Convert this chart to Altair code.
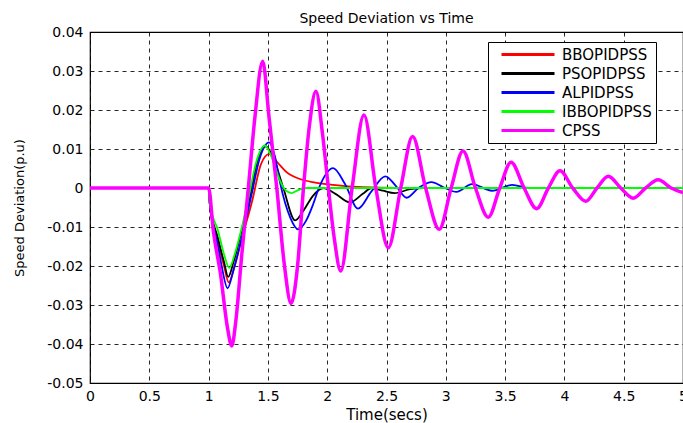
import altair as alt
import pandas as pd

series_names = ["BBOPIDPSS", "PSOPIDPSS", "ALPIDPSS", "IBBOPIDPSS", "CPSS"]
series_colors = ["#ff0000", "#000000", "#0000ff", "#00ff00", "#ff00ff"]

x_ticks = [0, 0.5, 1, 1.5, 2, 2.5, 3, 3.5, 4, 4.5, 5]
y_ticks = [-0.05, -0.04, -0.03, -0.02, -0.01, 0, 0.01, 0.02, 0.03, 0.04]

# BBOPIDPSS (red)
bbo_t = [0, 1.0, 1.01, 1.08, 1.13, 1.17, 1.22, 1.28, 1.37, 1.44, 1.51, 1.58, 1.66, 1.77, 1.9, 2.05, 2.3, 2.6, 5.0]
bbo_v = [0, 0, -0.004, -0.014, -0.020, -0.0242, -0.020, -0.013, -0.003, 0.006, 0.0087, 0.0066, 0.0040, 0.0023, 0.0014, 0.0008, 0.0002, 0, 0]

# PSOPIDPSS (black)
pso_t = [0, 1.0, 1.01, 1.08, 1.13, 1.165, 1.21, 1.27, 1.35, 1.41, 1.48, 1.55, 1.63, 1.73, 1.8, 1.88, 1.97,
         2.07, 2.19, 2.3, 2.375, 2.47, 2.57, 2.7, 2.8, 5.0]
pso_v = [0, 0, -0.004, -0.013, -0.019, -0.0228, -0.019, -0.012, -0.002, 0.0068, 0.0107, 0.0075, 0, -0.0083, -0.0058, -0.002, 0,
         -0.0015, -0.0037, -0.0015, 0, -0.0007, -0.0013, -0.0003, 0, 0]

# ALPIDPSS (blue)
al_t = [0, 1.0, 1.01, 1.08, 1.11, 1.16, 1.21, 1.27, 1.36, 1.43, 1.51, 1.56, 1.6, 1.69, 1.756, 1.82, 1.88, 1.93,
        2.05, 2.15, 2.26, 2.37, 2.49, 2.58, 2.67, 2.77, 2.88, 2.98, 3.09, 3.22, 3.39, 3.56, 3.7, 5.0]
al_v = [0, 0, -0.004, -0.015, -0.020, -0.0257, -0.021, -0.014, -0.002, 0.0075, 0.0117, 0.008, 0.0017, -0.0077, -0.0106, -0.0085, -0.0043, 0,
        0.0051, 0.001, -0.0053, -0.001, 0.003, 0.0005, -0.0025, 0, 0.0015, 0.0002, -0.001, 0.001, -0.0007, 0.0008, 0, 0]

# IBBOPIDPSS (green)
ibbo_t = [0, 1.0, 1.01, 1.08, 1.13, 1.175, 1.22, 1.265, 1.34, 1.40, 1.475, 1.53, 1.6, 1.645, 1.7, 1.75, 1.83, 5.0]
ibbo_v = [0, 0, -0.004, -0.011, -0.017, -0.0205, -0.017, -0.012, -0.002, 0.0065, 0.0109, 0.008, 0.002, -0.0005, -0.0013, -0.0006, 0, 0]

# CPSS (magenta)
cpss_t = [0, 1.0, 1.04, 1.1, 1.16, 1.195, 1.23, 1.28, 1.335, 1.39, 1.456, 1.51, 1.575, 1.64, 1.695, 1.75, 1.80,
          1.85, 1.905, 1.96, 2.01, 2.06, 2.114, 2.21, 2.31, 2.41, 2.515, 2.62, 2.72, 2.83, 2.945, 3.045, 3.145,
          3.25, 3.358, 3.455, 3.55, 3.66, 3.766, 3.865, 3.963, 4.07, 4.18, 4.275, 4.37, 4.475, 4.58, 4.685,
          4.79, 4.9, 5.0]
cpss_v = [0, 0, -0.011, -0.022, -0.036, -0.0405, -0.034, -0.017, 0, 0.018, 0.0325, 0.018, 0, -0.020, -0.0296, -0.020, 0,
          0.016, 0.0248, 0.014, 0, -0.013, -0.0213, 0, 0.0187, 0, -0.0153, 0, 0.0132, 0, -0.0106, 0, 0.0095,
          0, -0.0075, 0, 0.0066, 0, -0.0053, 0, 0.0044, 0, -0.0034, 0, 0.0030, 0, -0.0026, 0,
          0.0021, 0, -0.0012]

frames = []
for name, ts, vs in [
    ("BBOPIDPSS", bbo_t, bbo_v),
    ("PSOPIDPSS", pso_t, pso_v),
    ("ALPIDPSS", al_t, al_v),
    ("IBBOPIDPSS", ibbo_t, ibbo_v),
    ("CPSS", cpss_t, cpss_v),
]:
    frames.append(pd.DataFrame({"t": ts, "v": vs, "series": name}))
df = pd.concat(frames, ignore_index=True)

FONT = "DejaVu Sans"

x_enc = alt.X(
    "t:Q",
    scale=alt.Scale(domain=[0, 5], nice=False, zero=False),
    axis=alt.Axis(
        values=x_ticks, title="Time(secs)", grid=True, ticks=False, tickSize=0, domain=False,
        labelExpr="format(datum.value, '.1~f')", labelFont=FONT, labelFontSize=14, labelColor="#000",
        labelPadding=6, titleFont=FONT, titleFontSize=15, titleFontWeight="normal", titleColor="#000",
        titlePadding=4, labelFlush=False, labelOverlap=False,
        gridColor="#000", gridDash=[4, 4], gridWidth=1, gridOpacity=0.85,
    ),
)
y_enc = alt.Y(
    "v:Q",
    scale=alt.Scale(domain=[-0.05, 0.04], nice=False, zero=False),
    axis=alt.Axis(
        values=y_ticks, title="Speed Deviation(p.u)", grid=True, ticks=False, tickSize=0, domain=False,
        labelExpr="datum.value == 0 ? '0' : replace(format(datum.value, '.2f'), '\u2212', '-')",
        labelFont=FONT, labelFontSize=14, labelColor="#000", labelPadding=7,
        titleFont=FONT, titleFontSize=13, titleFontWeight="normal", titleColor="#000",
        titleX=-64, labelFlush=False, labelOverlap=False,
        gridColor="#000", gridDash=[4, 4], gridWidth=1, gridOpacity=0.85,
    ),
)
color_enc = alt.Color(
    "series:N",
    scale=alt.Scale(domain=series_names, range=series_colors),
    legend=alt.Legend(
        orient="none", legendX=398, legendY=10, title=None, symbolType="stroke",
        symbolSize=2809, symbolStrokeWidth=3, labelFont=FONT, labelFontSize=15, labelColor="#000",
        labelOffset=6, padding=4, symbolOffset=8, strokeColor="#000", fillColor="#fff",
        rowPadding=2, clipHeight=17, labelLimit=300,
    ),
)

base = alt.Chart(df)
controllers = base.transform_filter(alt.datum.series != "CPSS").mark_line(
    strokeWidth=1.8, interpolate="monotone"
).encode(x=x_enc, y=y_enc, color=color_enc, detail="series:N")
cpss = base.transform_filter(alt.datum.series == "CPSS").mark_line(
    strokeWidth=3.5, interpolate="monotone"
).encode(x=x_enc, y=y_enc, color=color_enc)

chart = alt.layer(controllers, cpss).properties(
    width=593, height=351,
    background="white",
    title=alt.TitleParams("Speed Deviation vs Time", font=FONT, fontSize=14, fontWeight="normal",
                          color="#000", anchor="middle", offset=8, dy=9),
    autosize=alt.AutoSizeParams(type="none"),
    padding={"left": 90, "top": 32, "right": 0, "bottom": 40},
).configure_view(
    stroke="#000", strokeWidth=1.2
)

chart.save("out.html", embed_options={"renderer": "svg", "actions": False})
